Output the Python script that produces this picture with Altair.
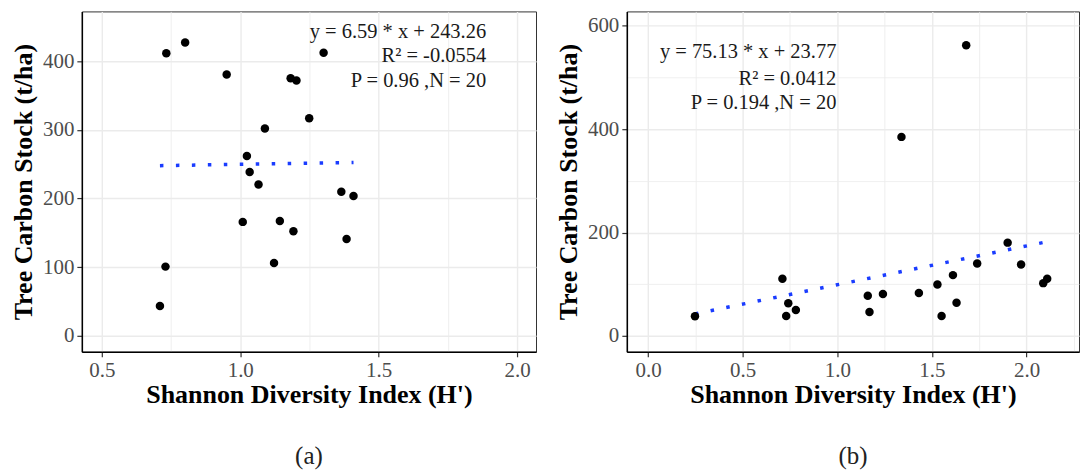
import json
import altair as alt
import pandas as pd

SERIF = "Liberation Serif"

# ---- data ----
a_x = [0.710, 0.730, 0.733, 0.801, 0.951, 1.009, 1.024, 1.034, 1.066, 1.089,
       1.122, 1.143, 1.182, 1.203, 1.192, 1.249, 1.301, 1.365, 1.384, 1.409]
a_y = [43.4, 100.8, 411.6, 427.5, 380.7, 166.0, 262.0, 238.8, 220.5, 302.0,
       106.2, 167.4, 375.4, 372.0, 152.5, 317.0, 412.5, 209.9, 140.9, 203.6]

b_x = [0.248, 0.710, 0.730, 0.741, 0.781, 1.161, 1.170, 1.241, 1.339, 1.431,
       1.529, 1.551, 1.611, 1.630, 1.681, 1.739, 1.900, 1.971, 2.088, 2.109]
b_y = [37.9, 110.4, 38.5, 62.9, 50.0, 77.7, 46.2, 80.9, 385.1, 82.8,
       99.5, 38.5, 117.5, 64.2, 562.3, 139.9, 180.4, 138.0, 102.0, 110.4]

a_slope, a_intercept = 6.59, 243.26
b_slope, b_intercept = 75.13, 23.77

a_labels = ["y = 6.59 * x + 243.26", "R\u00b2 = -0.0554", "P = 0.96 ,N = 20"]
a_label_x = [1.888, 1.888, 1.888]
a_label_y = [442, 408, 371]

b_labels = ["y = 75.13 * x + 23.77", "R\u00b2 = 0.0412", "P = 0.194 ,N = 20"]
b_label_x = [0.995, 0.995, 0.995]
b_label_y = [550, 498, 450]

a_xmajor, a_xminor = [0.5, 1.0, 1.5, 2.0], [0.75, 1.25, 1.75]
a_ymajor, a_yminor = [0, 100, 200, 300, 400], [50, 150, 250, 350, 450]
b_xmajor, b_xminor = [0.0, 0.5, 1.0, 1.5, 2.0], [0.25, 0.75, 1.25, 1.75, 2.25]
b_ymajor, b_yminor = [0, 200, 400, 600], [100, 300, 500]

X_TITLE = "Shannon Diversity Index (H')"
Y_TITLE = "Tree Carbon Stock (t/ha)"


def make_axis(major, minor, fmt, title, title_pad):
    test = f"indexof({json.dumps(major)}, datum.value) >= 0"
    return alt.Axis(
        values=sorted(major + minor),
        format=fmt,
        labelExpr=f"{test} ? datum.label : ''",
        title=title,
        labelFont=SERIF, labelFontSize=21, labelColor="#4d4d4d",
        titleFont=SERIF, titleFontSize=26, titleFontWeight="bold", titleColor="black",
        tickColor={"condition": {"test": test, "value": "#333333"}, "value": "transparent"},
        gridWidth={"condition": {"test": test, "value": 1.4}, "value": 0.8},
        gridColor="#ebebeb",
        tickSize=5,
        tickWidth=1.2,
        labelPadding=3,
        titlePadding=title_pad,
        labelOverlap=False,
        domainColor="black", domainWidth=1.5,
    )


def panel(xs, ys, slope, intercept, lab, lab_x, lab_y, xdom, ydom,
          xmaj, xmin, ymaj, ymin, w, h, cap):
    pts = pd.DataFrame({"x": xs, "y": ys})
    line_df = pd.DataFrame({"x": [min(xs), max(xs)], "slope": slope, "intercept": intercept})
    ann = pd.DataFrame({"x": lab_x, "y": lab_y, "t": lab})

    xsc = alt.Scale(domain=xdom, nice=False, zero=False)
    ysc = alt.Scale(domain=ydom, nice=False, zero=False)

    points = alt.Chart(pts).mark_circle(size=72, color="black", opacity=1).encode(
        x=alt.X("x:Q", scale=xsc, axis=make_axis(xmaj, xmin, ".1f", X_TITLE, 1)),
        y=alt.Y("y:Q", scale=ysc, axis=make_axis(ymaj, ymin, "d", Y_TITLE, 6)),
    )
    line = alt.Chart(line_df).transform_calculate(
        y="datum.slope * datum.x + datum.intercept"
    ).mark_line(color="#1a3cff", strokeDash=[3.5, 12.5], strokeWidth=3.5, strokeCap="butt").encode(
        x="x:Q", y="y:Q"
    )
    text = alt.Chart(ann).mark_text(
        align="right", baseline="middle", font=SERIF, fontSize=20.5, color="#1a1a1a"
    ).encode(x="x:Q", y="y:Q", text="t:N")

    return alt.layer(line, points, text).properties(
        width=w, height=h,
        title=alt.TitleParams(cap, orient="bottom", anchor="middle", frame="group",
                              font=SERIF, fontSize=25, fontWeight="normal",
                              color="#222222", offset=36),
    )


left = panel(a_x, a_y, a_slope, a_intercept, a_labels, a_label_x, a_label_y,
             [0.428, 2.068], [-23.3, 472.7], a_xmajor, a_xminor, a_ymajor, a_yminor,
             455, 341, "(a)")
right = panel(b_x, b_y, b_slope, b_intercept, b_labels, b_label_x, b_label_y,
              [-0.112, 2.277], [-30.9, 628], b_xmajor, b_xminor, b_ymajor, b_yminor,
              453, 341, "(b)")

chart = alt.hconcat(left, right, spacing=18).properties(
    padding={"left": 10, "top": 10, "right": 0, "bottom": 0},
    background="white",
).configure_view(
    stroke="#333333", strokeWidth=1
)

chart.save("out.html", embed_options={"renderer": "svg", "actions": False})
